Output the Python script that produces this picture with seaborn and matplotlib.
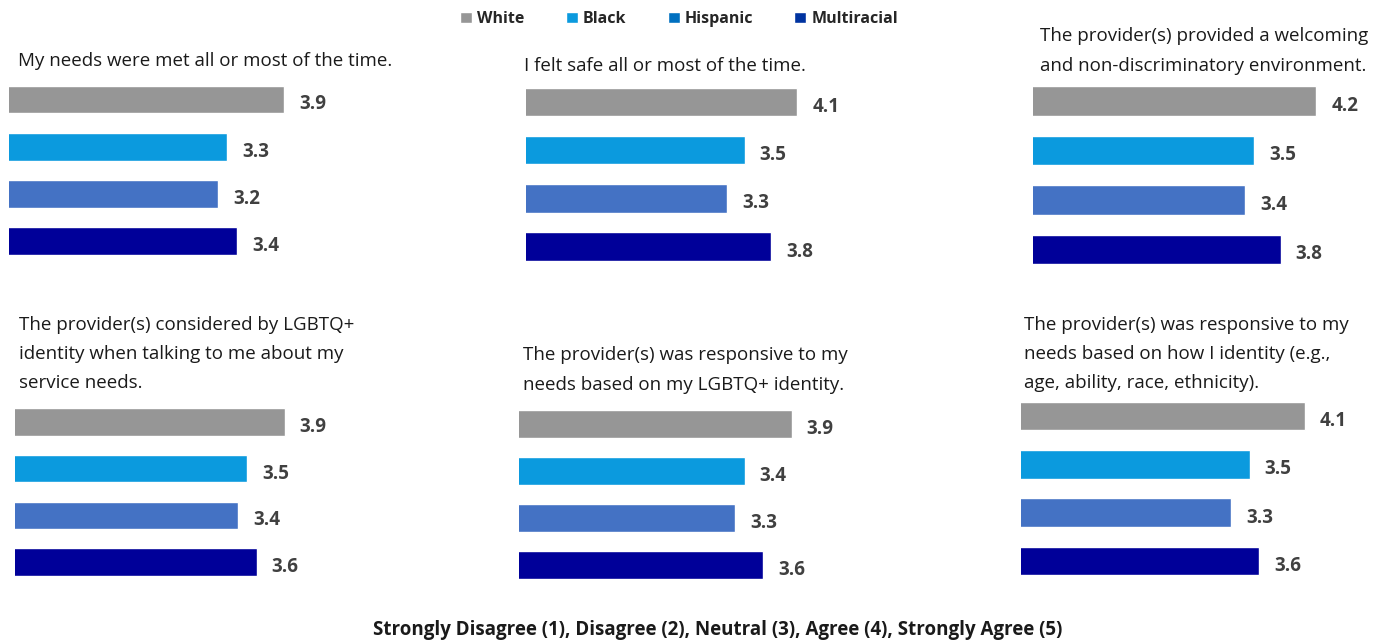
import numpy as np
import pandas as pd
import seaborn as sns
import matplotlib.pyplot as plt
from matplotlib.patches import Patch

# data
groups = ['White', 'Black', 'Hispanic', 'Multiracial']
bar_colors = ['#969696', '#0b9ade', '#4472c4', '#000099']
legend_colors = ['#969696', '#0b9ade', '#0070c0', '#0033a0']

questions = [
    'My needs were met all or most of the time.',
    'I felt safe all or most of the time.',
    'The provider(s) provided a welcoming\nand non-discriminatory environment.',
    'The provider(s) considered by LGBTQ+\nidentity when talking to me about my\nservice needs.',
    'The provider(s) was responsive to my\nneeds based on my LGBTQ+ identity.',
    'The provider(s) was responsive to my\nneeds based on how I identity (e.g.,\nage, ability, race, ethnicity).',
]
scores = [
    [3.9, 3.3, 3.2, 3.4],
    [4.1, 3.5, 3.3, 3.8],
    [4.2, 3.5, 3.4, 3.8],
    [3.9, 3.5, 3.4, 3.6],
    [3.9, 3.4, 3.3, 3.6],
    [4.1, 3.5, 3.3, 3.6],
]
footnote = 'Strongly Disagree (1), Disagree (2), Neutral (3), Agree (4), Strongly Agree (5)'

sns.set_style('white')
plt.rcParams['font.family'] = ['Open Sans', 'DejaVu Sans']

W, H = 1382, 642
fig = plt.figure(figsize=(W / 100, H / 100), dpi=100)

# panel layout in pixels: left, first bar centre, bar spacing, px per unit, title x, title centre
layout = [
    (9, 99.5, 47.3, 95.0, 18, 61),
    (526, 102, 48.2, 87.5, 524, 66),
    (1033, 101, 49.5, 88.5, 1040, 51),
    (15, 422, 46.7, 93.0, 19, 354),
    (519, 424, 47.0, 94.0, 523, 370),
    (1021, 416, 48.3, 91.5, 1024, 354),
]

for q, vals, (left, c0, sp, scale, tx, ty) in zip(questions, scores, layout):
    top = c0 - sp / 2
    ax = fig.add_axes([left / W, 1 - (top + 4 * sp) / H, 4 * scale / W, 4 * sp / H])
    df = pd.DataFrame({'group': groups, 'score': vals})
    sns.barplot(data=df, x='score', y='group', hue='group', palette=bar_colors,
                width=0.59, legend=False, ax=ax, saturation=1)
    # scale runs 1 to 5
    ax.set_xlim(1, 5)
    ax.set_ylim(3.5, -0.5)
    ax.axis('off')
    for i, v in enumerate(vals):
        ax.annotate(f'{v:.1f}', (v, i), xytext=(15, -5), textcoords='offset pixels',
                    ha='left', va='center', fontsize=13.5, fontweight='bold', color='#404040')
    fig.text(tx / W, 1 - ty / H, q, ha='left', va='center', fontsize=13.5,
             color='#1a1a1a', linespacing=1.8)

handles = [Patch(facecolor=c, label=g) for g, c in zip(groups, legend_colors)]
fig.legend(handles=handles, loc='center', bbox_to_anchor=(679 / W, 1 - 19 / H), ncol=4,
           frameon=False, prop={'weight': 'bold', 'size': 11.5}, handlelength=0.75,
           handleheight=0.75, handletextpad=0.3, columnspacing=2.6)

fig.text(718 / W, 1 - 630 / H, footnote, ha='center', va='center', fontsize=13.5,
         fontweight='bold', color='#1a1a1a')

fig.savefig('out.png', dpi=100)
